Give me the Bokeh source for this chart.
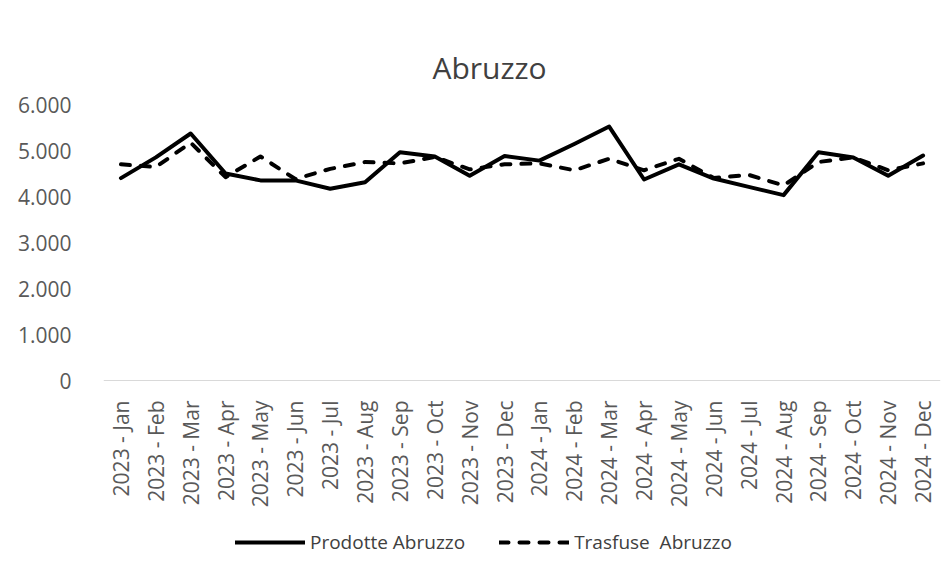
import math
from bokeh.plotting import figure
from bokeh.models import FactorRange, Range1d, FixedTicker, Legend, LegendItem, ColumnDataSource
from bokeh.embed import file_html
from bokeh.resources import INLINE

months = ["Jan", "Feb", "Mar", "Apr", "May", "Jun", "Jul", "Aug", "Sep", "Oct", "Nov", "Dec"]
categories = [f"{y} - {m}" for y in (2023, 2024) for m in months]

prodotte = [4400, 4850, 5370, 4500, 4350, 4350, 4170, 4310, 4960, 4870, 4450, 4880,
            4780, 5140, 5520, 4370, 4700, 4390, 4210, 4030, 4960, 4850, 4450, 4890]
trasfuse = [4700, 4640, 5170, 4420, 4870, 4380, 4600, 4750, 4720, 4860, 4590, 4700,
            4720, 4570, 4820, 4570, 4820, 4400, 4470, 4240, 4750, 4850, 4570, 4720]

y_ticks = [0, 1000, 2000, 3000, 4000, 5000, 6000]
y_labels = {0: "0", 1000: "1.000", 2000: "2.000", 3000: "3.000", 4000: "4.000", 5000: "5.000", 6000: "6.000"}

source = ColumnDataSource(dict(cat=categories, prodotte=prodotte, trasfuse=trasfuse))

FONT = "Open Sans"

# frame extends below the value axis so that category labels and legend sit inside it
p = figure(x_range=FactorRange(*categories, range_padding=0), y_range=Range1d(-4239, 6000),
           frame_width=837, frame_height=471, output_backend="svg", toolbar_location=None,
           min_border_left=103, min_border_right=2, min_border_top=104, min_border_bottom=0)
p.x_range.range_padding = 0
p.outline_line_color = None
p.grid.grid_line_color = None

p.title.text = "Abruzzo"
p.title.align = "left"
p.title.offset = 329
p.title.standoff = 34
p.title.text_font = FONT
p.title.text_font_size = "30px"
p.title.text_font_style = "normal"
p.title.text_color = "#404040"

r1 = p.line("cat", "prodotte", source=source, line_color="black", line_width=4, line_join="round", line_cap="round")
r2 = p.line("cat", "trasfuse", source=source, line_color="black", line_width=4, line_dash="9 11",
            line_join="round", line_cap="round")

p.yaxis.ticker = FixedTicker(ticks=y_ticks)
p.yaxis.major_label_overrides = y_labels
p.yaxis.axis_line_color = None
p.yaxis.major_tick_line_color = None
p.yaxis.minor_tick_line_color = None
p.yaxis.major_label_text_font = FONT
p.yaxis.major_label_text_font_size = "21px"
p.yaxis.major_label_text_color = "#595959"
p.yaxis.major_label_standoff = 26

p.xaxis.fixed_location = 0
p.xaxis.axis_line_color = "#d9d9d9"
p.xaxis.axis_line_width = 1
p.xaxis.major_tick_line_color = None
p.xaxis.minor_tick_line_color = None
p.xaxis.major_label_orientation = math.pi / 2
p.xaxis.major_label_text_font = FONT
p.xaxis.major_label_text_font_size = "21px"
p.xaxis.major_label_text_color = "#595959"
p.xaxis.major_label_standoff = 14

legend = Legend(items=[LegendItem(label="Prodotte Abruzzo", renderers=[r1]),
                       LegendItem(label="Trasfuse  Abruzzo", renderers=[r2])],
                orientation="horizontal", location=(132, 20),
                glyph_width=70, glyph_height=20, spacing=34, label_standoff=5,
                label_text_font=FONT, label_text_font_size="19px", label_text_color="#404040",
                border_line_color=None, background_fill_alpha=0, margin=0, padding=0)
p.add_layout(legend, "center")

open("out.html", "w").write(file_html(p, INLINE))
